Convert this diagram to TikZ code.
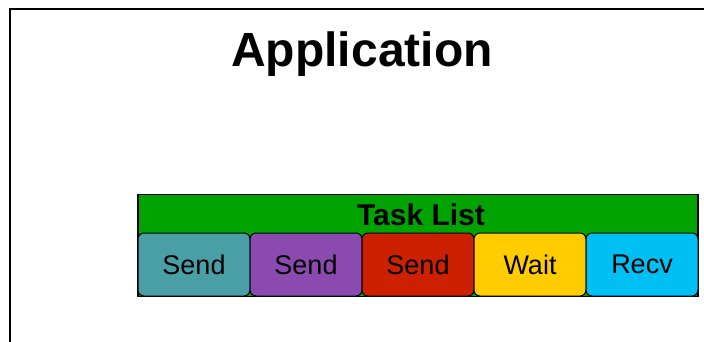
\documentclass[tikz,border=0pt]{standalone}
\usepackage{fontspec}
\setmainfont{Liberation Sans}

\definecolor{listgreen}{HTML}{00A300}
\definecolor{taskteal}{HTML}{4A9EA6}
\definecolor{taskpurple}{HTML}{8A4AAF}
\definecolor{taskred}{HTML}{CC2000}
\definecolor{taskyellow}{HTML}{FFCC00}
\definecolor{taskcyan}{HTML}{00BFF2}

\begin{document}
\begin{tikzpicture}[x=1pt, y=-1pt]
  \tikzset{
    list_node/.style={rectangle, fill=listgreen, draw, line width=1.5pt, minimum width=560pt, minimum height=102pt, inner sep=0pt},
    task_node/.style={rectangle, rounded corners=6pt, draw, line width=1pt, minimum width=112pt, minimum height=63pt, inner sep=0pt, font=\fontsize{27}{30}\selectfont}
  }

  % Marco de la aplicación
  \useasboundingbox (0,0) rectangle (704,341);
  \draw[line width=2pt] (10,9) rectangle (730,370);
  \node[anchor=base, font=\fontsize{48}{54}\bfseries] (app_label) at (362,66) {Application};

  % Lista de tareas
  \node[list_node] (task_list) at (418,245.5) {};
  \node[anchor=base, font=\fontsize{30}{34}\bfseries] (list_label) at (421,225) {Task List};

  % Tareas
  \node[task_node, fill=taskteal] (send_a) at (194,264.5) {Send};
  \node[task_node, fill=taskpurple] (send_b) at (306,264.5) {Send};
  \node[task_node, fill=taskred] (send_c) at (418,264.5) {Send};
  \node[task_node, fill=taskyellow] (wait) at (530,264.5) {Wait};
  \node[task_node, fill=taskcyan] (recv) at (642,264.5) {Recv};
\end{tikzpicture}
\end{document}
